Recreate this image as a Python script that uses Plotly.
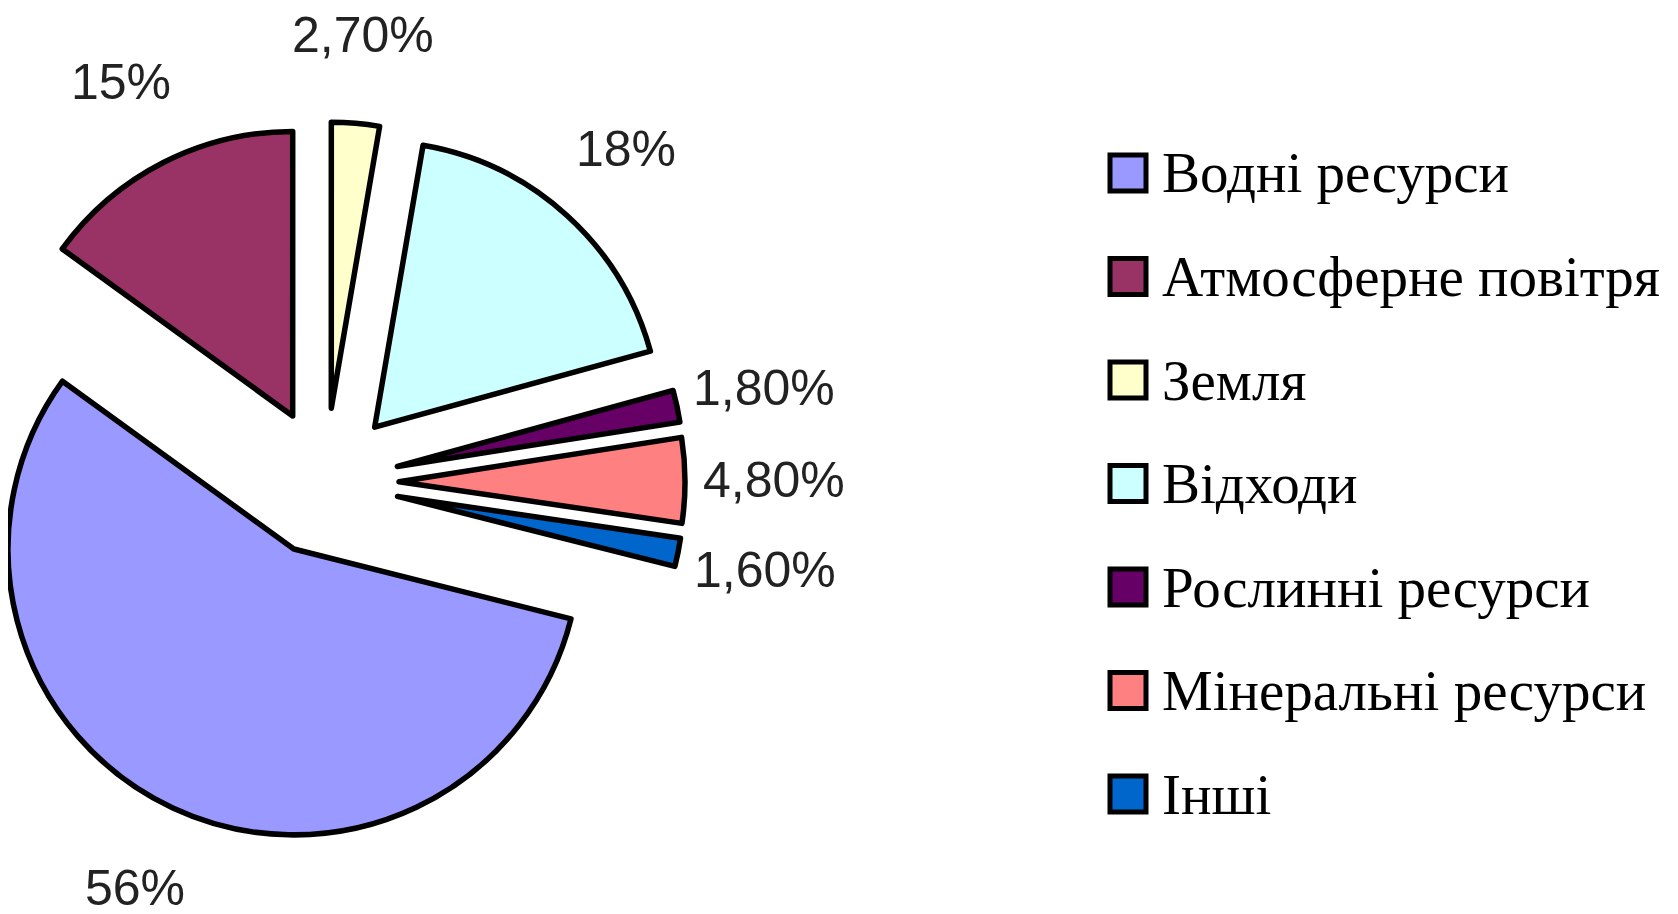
import math
import plotly.graph_objects as go

# ---------------- data ----------------
categories = ["Водні ресурси", "Атмосферне повітря", "Земля", "Відходи",
              "Рослинні ресурси", "Мінеральні ресурси", "Інші"]
values = [56, 15, 2.7, 18, 1.8, 4.8, 1.6]
value_labels = ["56%", "15%", "2,70%", "18%", "1,80%", "4,80%", "1,60%"]
colors = ["#9999FF", "#993366", "#FFFFCC", "#CCFFFF", "#660066", "#FF8080", "#0066CC"]

# ---------------- layout constants (page px) ----------------
W, H = 1678, 914
PAGE_OFF = 8               # default body margin of the html page
CX, CY = 325, 482          # centre of the (un-exploded) pie
R = 286                    # pie radius
EXPLODE = 74 / 286         # explosion distance, fraction of radius
ROTATION = 104.15          # angle where first slice starts (clockwise from 12 o'clock)
LABEL_DIST = 1.31          # data label distance from slice tip, fraction of radius

LEG_X, LEG_Y0, LEG_DY, SQ, TEXT_X = 1110, 173, 103.5, 36, 1160


def px(x):
    return (x - PAGE_OFF) / W


def py(y):
    return 1 - (y - PAGE_OFF) / H


total = sum(values)
fig = go.Figure()
annotations = []
shapes = []

acc = ROTATION
for i, (cat, v) in enumerate(zip(categories, values)):
    span = v / total * 360.0
    mid = math.radians(acc + span / 2.0)
    acc += span
    tip_x = CX + EXPLODE * R * math.sin(mid)
    tip_y = CY - EXPLODE * R * math.cos(mid)
    dom_x = [max(0.0, px(tip_x - R)), min(1.0, px(tip_x + R))]
    dom_y = [max(0.0, py(tip_y + R)), min(1.0, py(tip_y - R))]
    fig.add_trace(go.Pie(
        values=values,
        labels=categories,
        sort=False,
        direction="clockwise",
        rotation=ROTATION,
        domain=dict(x=dom_x, y=dom_y),
        marker=dict(
            colors=[c if j == i else "rgba(0,0,0,0)" for j, c in enumerate(colors)],
            line=dict(color="black", width=[5.5 if j == i else 0 for j in range(len(values))]),
        ),
        textinfo="none",
        showlegend=False,
        hoverinfo="label+percent",
        name=cat,
    ))
    # data label
    lx = tip_x + LABEL_DIST * R * math.sin(mid)
    ly = tip_y - LABEL_DIST * R * math.cos(mid)
    annotations.append(dict(
        x=px(lx), y=py(ly), xref="paper", yref="paper",
        text=value_labels[i], showarrow=False,
        xanchor="center", yanchor="middle",
        font=dict(family="Liberation Sans, Arial, sans-serif", size=50, color="#222222"),
    ))
    # legend entry
    yc = LEG_Y0 + i * LEG_DY
    shapes.append(dict(
        type="rect", xref="paper", yref="paper",
        x0=px(LEG_X), x1=px(LEG_X + SQ),
        y0=py(yc + SQ / 2), y1=py(yc - SQ / 2),
        fillcolor=colors[i], line=dict(color="black", width=5),
    ))
    annotations.append(dict(
        x=px(TEXT_X), y=py(yc), xref="paper", yref="paper",
        text=cat, showarrow=False, xanchor="left", yanchor="middle",
        font=dict(family="Liberation Serif, Times New Roman, serif", size=57, color="black"),
    ))

fig.update_layout(
    width=W, height=H,
    margin=dict(l=0, r=0, t=0, b=0),
    paper_bgcolor="white", plot_bgcolor="white",
    showlegend=False,
    annotations=annotations,
    shapes=shapes,
)

fig.write_html("out.html")
